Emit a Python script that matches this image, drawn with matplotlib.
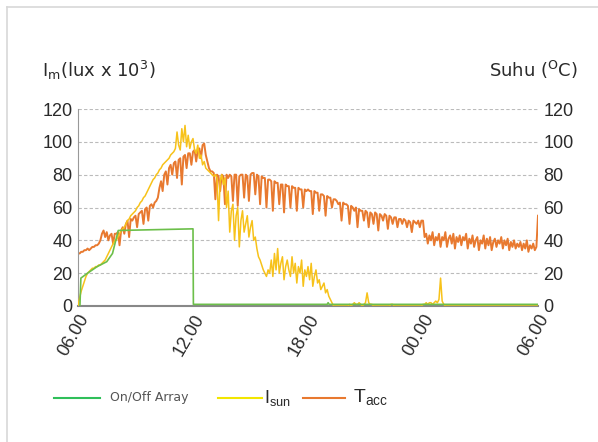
import matplotlib
matplotlib.use("Agg")
import matplotlib.pyplot as plt
from matplotlib.lines import Line2D
import numpy as np

plt.rcParams["font.family"] = ["Liberation Sans", "DejaVu Sans"]

# ---- data (hours after 06:00), 5-minute samples ----
step_hours = 1 / 12
t_acc = [
    32, 32, 33, 33, 34, 34, 35, 34, 35, 36, 36, 37,
    37, 38, 40, 44, 46, 42, 45, 40, 43, 44, 38, 44,
    44, 45, 37, 46, 48, 44, 50, 52, 42, 53, 52, 54,
    55, 48, 56, 57, 58, 50, 59, 60, 52, 61, 62, 60,
    63, 64, 66, 72, 76, 70, 80, 82, 74, 84, 86, 80,
    87, 88, 78, 89, 90, 74, 91, 92, 84, 93, 93, 86,
    94, 95, 88, 95, 96, 90, 98, 99, 92, 88, 84, 82,
    82, 81, 65, 80, 79, 70, 80, 79, 62, 80, 78, 80,
    79, 64, 80, 80, 61, 79, 80, 80, 66, 80, 79, 64,
    80, 81, 81, 68, 80, 79, 62, 79, 78, 78, 60, 77,
    77, 76, 58, 76, 75, 75, 62, 74, 74, 57, 74, 73,
    73, 60, 73, 72, 72, 58, 72, 71, 71, 60, 71, 70,
    71, 70, 70, 56, 70, 69, 69, 58, 68, 68, 67, 55,
    67, 66, 66, 60, 65, 65, 64, 62, 63, 52, 63, 62,
    62, 61, 50, 61, 60, 58, 60, 48, 59, 58, 58, 52,
    58, 57, 48, 57, 56, 50, 57, 56, 46, 56, 55, 52,
    56, 55, 47, 55, 54, 50, 54, 54, 48, 53, 53, 50,
    53, 52, 48, 52, 51, 45, 52, 51, 50, 52, 48, 52,
    52, 42, 44, 38, 43, 40, 45, 37, 42, 40, 44, 36,
    42, 40, 45, 36, 41, 43, 38, 44, 35, 42, 39, 43,
    37, 42, 40, 44, 35, 41, 38, 43, 36, 40, 42, 34,
    40, 38, 43, 35, 41, 37, 42, 34, 39, 41, 36, 40,
    38, 42, 35, 40, 37, 41, 34, 39, 36, 40, 35, 38,
    36, 39, 34, 38, 35, 40, 33, 37, 35, 38, 34, 36,
    55,
]
i_sun = [
    0, 5, 9, 12, 15, 18, 20, 21, 22, 23, 23, 24,
    24, 25, 25, 26, 27, 28, 30, 32, 34, 36, 38, 40,
    40, 42, 44, 46, 47, 48, 50, 52, 53, 55, 56, 57,
    58, 60, 61, 63, 64, 66, 67, 69, 71, 73, 75, 77,
    78, 80, 81, 83, 84, 86, 87, 88, 89, 90, 92, 93,
    94, 96, 106, 98, 95, 108, 100, 110, 97, 104, 96, 100,
    102, 95, 93, 98, 90, 92, 86, 88, 84, 83, 82, 81,
    80, 79, 80, 78, 52, 76, 80, 74, 78, 60, 70, 45,
    58, 62, 40, 55, 60, 36, 52, 58, 45, 50, 55, 42,
    48, 52, 40, 42, 35, 30, 28, 25, 22, 20, 18, 22,
    20, 28, 18, 32, 22, 35, 20, 26, 30, 16, 24, 28,
    22, 18, 30, 20, 26, 14, 24, 20, 28, 12, 22, 18,
    24, 16, 26, 12, 18, 22, 14, 16, 10, 12, 14, 8,
    10, 6, 4, 2, 0, 0, 0, 0, 0, 0, 0, 0,
    0, 0, 1, 0, 1, 2, 1, 1, 2, 1, 0, 1,
    2, 8, 2, 1, 1, 0, 0, 0, 0, 0, 0, 0,
    0, 0, 0, 0, 1, 1, 0, 0, 0, 0, 0, 0,
    0, 0, 0, 0, 0, 0, 0, 0, 0, 0, 0, 0,
    1, 1, 2, 1, 2, 2, 1, 2, 3, 2, 4, 17,
    3, 1, 0, 0, 0, 0, 0, 0, 0, 0, 0, 0,
    0, 0, 0, 0, 0, 0, 0, 0, 0, 0, 0, 0,
    0, 0, 0, 0, 0, 0, 0, 0, 0, 0, 0, 0,
    0, 0, 0, 0, 0, 0, 0, 0, 0, 0, 0, 0,
    0, 0, 0, 0, 0, 0, 0, 0, 0, 0, 0, 0,
    0,
]
array_hours = [0.1, 0.15, 0.5, 1.0, 1.5, 1.8, 2.1, 6.0, 6.02, 13.0, 13.05, 13.1, 24.0]
array_vals = [0, 17, 20, 24, 27, 32, 46, 47, 1, 1, 2, 1, 1]

tick_hours = [0, 6, 12, 18, 24]
tick_labels = ["06.00", "12.00", "18.00", "00.00", "06.00"]
y_ticks = [0, 20, 40, 60, 80, 100, 120]

t_hours = np.arange(len(t_acc)) * step_hours
s_hours = np.arange(len(i_sun)) * step_hours

YELLOW = "#f7c21a"
ORANGE = "#e8792f"
TXT = "#2a2a2a"
WIDE = ["DejaVu Sans"]

fig = plt.figure(figsize=(5.98, 4.42), dpi=100)
# outer frame
fig.add_artist(Line2D([7 / 598, 1.0], [1 - 7 / 442] * 2, color="#d8d8d8", lw=1.2))
fig.add_artist(Line2D([7 / 598] * 2, [1 - 7 / 442, 0.0], color="#d8d8d8", lw=1.2))

ax = fig.add_axes([78 / 598, 1 - 306 / 442, 460 / 598, 197 / 442])
ax.set_xlim(0, 24)
ax.set_ylim(0, 120)

for y in y_ticks[1:]:
    ax.axhline(y, color="#bbbbbb", lw=0.8, ls=(0, (3, 2)), zorder=0)

ax.plot(t_hours, t_acc, color=ORANGE, lw=1.4, zorder=2)
ax.plot(s_hours, i_sun, color=YELLOW, lw=1.1, zorder=3)
ax.plot(array_hours, array_vals, color="#6cbf4a", lw=1.2, zorder=4)

for s in ["top", "right"]:
    ax.spines[s].set_visible(False)
ax.spines["left"].set_color("#999999")
ax.spines["bottom"].set_color("#888888")
ax.spines["bottom"].set_linewidth(1.5)

ax.set_yticks(y_ticks)
ax.set_yticklabels([str(v) for v in y_ticks], fontsize=13, color=TXT)
ax.tick_params(axis="y", length=0, pad=4)
ax.set_xticks(tick_hours)
ax.set_xticklabels(tick_labels, rotation=60, ha="right", va="top",
                   rotation_mode="anchor", fontsize=13, color=TXT)
ax.tick_params(axis="x", length=0, pad=4)

ax2 = ax.twinx()
ax2.set_ylim(0, 120)
ax2.set_yticks(y_ticks)
ax2.set_yticklabels([str(v) for v in y_ticks], fontsize=13, color=TXT)
ax2.tick_params(axis="y", length=0, pad=4)
for s in ["top", "right", "left", "bottom"]:
    ax2.spines[s].set_visible(False)

fig.text(42 / 598, 1 - 70 / 442, r"I$_{\mathregular{m}}$(lux x 10$^{\mathregular{3}}$)",
         fontsize=13, color=TXT, va="center", ha="left", family=WIDE)
fig.text(578 / 598, 1 - 70 / 442, r"Suhu ($^{\mathregular{O}}$C)",
         fontsize=13, color=TXT, va="center", ha="right", family=WIDE)

# legend
ly = 1 - 398 / 442
fig.add_artist(Line2D([54 / 598, 100 / 598], [ly, ly], color="#2fbf5a", lw=1.5))
fig.text(110 / 598, ly, "On/Off Array", fontsize=9, color="#555555", va="center", family=WIDE)
fig.add_artist(Line2D([218 / 598, 262 / 598], [ly, ly], color="#f2e600", lw=1.5))
fig.text(264 / 598, ly, r"I$_{\mathregular{sun}}$", fontsize=13, color=TXT, va="center")
fig.add_artist(Line2D([303 / 598, 345 / 598], [ly, ly], color=ORANGE, lw=1.5))
fig.text(353 / 598, ly, r"T$_{\mathregular{acc}}$", fontsize=14, color=TXT, va="center")

fig.savefig("out.png", dpi=100, facecolor="white")
